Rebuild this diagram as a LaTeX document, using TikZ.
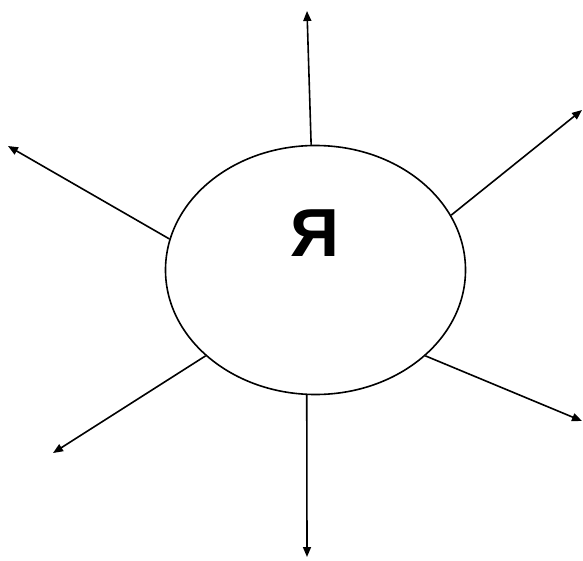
\documentclass[tikz,border=0pt]{standalone}
\usepackage{fontspec}
\setmainfont{Liberation Sans}
\usetikzlibrary{arrows.meta,shapes.geometric}

\begin{document}
\begin{tikzpicture}[x=1pt,y=-1pt,>={Triangle[length=10pt,width=8pt]},
    ray/.style={->,line width=1.6pt},
    self/.style={ellipse,draw,line width=1.6pt,inner sep=0pt,
                 minimum width=300pt,minimum height=249pt}]
  \useasboundingbox (0,0) rectangle (583,560);

  \node[self] (ya) at (315.5,270) {};
  \node[anchor=base,font=\bfseries\fontsize{68}{68}\selectfont] (letter)
       at (315,256) {Я};

  % free ends of the rays
  \coordinate (n)  at (307,11);
  \coordinate (ne) at (582,110);
  \coordinate (se) at (582,421);
  \coordinate (s)  at (307,557);
  \coordinate (sw) at (53,453);
  \coordinate (nw) at (8,146);

  \foreach \ang/\tip in {92.5/n,22.5/ne,-38/se,-94/s,218.5/sw,168.7/nw}
    \draw[ray] (ya.\ang) -- (\tip);
\end{tikzpicture}
\end{document}
